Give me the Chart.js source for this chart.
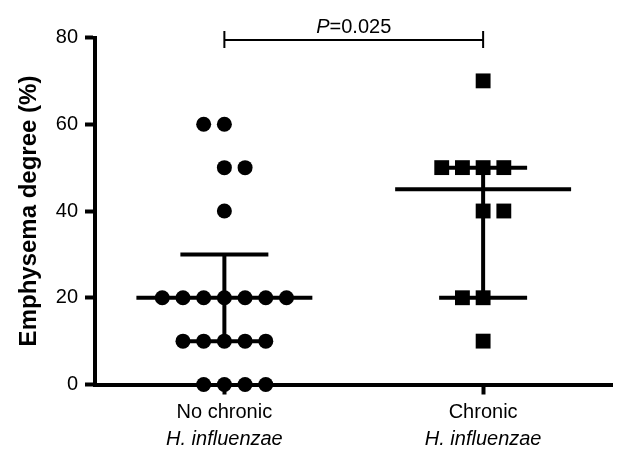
<!DOCTYPE html>
<html>
<head>
<meta charset="utf-8">
<script src="https://cdn.jsdelivr.net/npm/chart.js@4"></script>
<style>
  body { margin: 0; background: #fff; }
</style>
</head>
<body>
<canvas id="emphysemaChart" width="623" height="454"></canvas>
<script>
// values
const categories = ['No chronic', 'Chronic'];
const categorySubLabels = ['H. influenzae', 'H. influenzae'];
const noChronicValues = [60, 60, 50, 50, 40, 20, 20, 20, 20, 20, 20, 20, 10, 10, 10, 10, 10, 0, 0, 0, 0];
const chronicValues = [70, 50, 50, 50, 50, 40, 40, 20, 20, 10];
const medians = [20, 45];
const lowerQuartiles = [10, 20];
const upperQuartiles = [30, 50];
const yTickValues = [0, 20, 40, 60, 80];
const pLetter = 'P';
const pRest = '=0.025';

const fontFamily = '"Liberation Sans", Arial, sans-serif';
const dotGap = 0.08;      // horizontal spread between dots in one row (x units)
const medianHalf = 0.34;
const capHalf = 0.17;

// spread dots sharing the same value side by side, like a column scatter
function spreadPoints(values, groupIndex) {
  const rows = {};
  values.forEach(v => { rows[v] = (rows[v] || 0) + 1; });
  const levels = Object.keys(rows).map(Number).sort((a, b) => b - a);
  const pts = [];
  levels.forEach((v, r) => {
    const n = rows[v];
    let start;
    if (n % 2 === 1) start = -(n - 1) / 2;
    else start = ((r + groupIndex) % 2 === 0) ? -n / 2 : -n / 2 + 1;
    for (let k = 0; k < n; k++) pts.push({ x: groupIndex + (start + k) * dotGap, y: v });
  });
  return pts;
}

function segment(x0, y0, x1, y1) {
  return {
    data: [{ x: x0, y: y0 }, { x: x1, y: y1 }],
    showLine: true,
    borderColor: '#000',
    borderWidth: 4,
    borderCapStyle: 'butt',
    pointRadius: 0,
    clip: false
  };
}

const datasets = [];
categories.forEach((c, i) => {
  datasets.push(segment(i - medianHalf, medians[i], i + medianHalf, medians[i]));
  datasets.push(segment(i - capHalf, upperQuartiles[i], i + capHalf, upperQuartiles[i]));
  datasets.push(segment(i - capHalf, lowerQuartiles[i], i + capHalf, lowerQuartiles[i]));
  datasets.push(segment(i, lowerQuartiles[i], i, upperQuartiles[i]));
});

datasets.push({
  label: categories[0],
  data: spreadPoints(noChronicValues, 0),
  pointStyle: 'circle',
  pointRadius: 7.5,
  backgroundColor: '#000',
  borderColor: '#000',
  borderWidth: 0,
  clip: false
});
datasets.push({
  label: categories[1],
  data: spreadPoints(chronicValues, 1),
  pointStyle: 'rect',
  pointRadius: 10.5,
  backgroundColor: '#000',
  borderColor: '#000',
  borderWidth: 0,
  clip: false
});

const extraText = {
  id: 'extraText',
  afterDraw(chart) {
    const ctx = chart.ctx;
    const xs = chart.scales.x;
    const area = chart.chartArea;
    ctx.save();
    ctx.fillStyle = '#000';
    ctx.strokeStyle = '#000';

    // italic second line of the category labels
    ctx.font = 'italic 20px ' + fontFamily;
    ctx.textAlign = 'center';
    ctx.textBaseline = 'middle';
    categorySubLabels.forEach((t, i) => {
      ctx.fillText(t, xs.getPixelForValue(i), area.bottom + 55);
    });

    // significance bracket
    const x0 = xs.getPixelForValue(0);
    const x1 = xs.getPixelForValue(1);
    const yb = area.top + 2.5;
    ctx.lineWidth = 2;
    ctx.beginPath();
    ctx.moveTo(x0, yb); ctx.lineTo(x1, yb);
    ctx.moveTo(x0, yb - 9); ctx.lineTo(x0, yb + 8);
    ctx.moveTo(x1, yb - 9); ctx.lineTo(x1, yb + 8);
    ctx.stroke();

    ctx.textBaseline = 'alphabetic';
    ctx.textAlign = 'left';
    ctx.font = 'italic 20px ' + fontFamily;
    const w1 = ctx.measureText(pLetter).width;
    ctx.font = '20px ' + fontFamily;
    const w2 = ctx.measureText(pRest).width;
    const tx = (x0 + x1) / 2 - (w1 + w2) / 2;
    ctx.font = 'italic 20px ' + fontFamily;
    ctx.fillText(pLetter, tx, yb - 7);
    ctx.font = '20px ' + fontFamily;
    ctx.fillText(pRest, tx + w1, yb - 7);
    ctx.restore();
  }
};

const config = {
  type: 'scatter',
  data: { datasets: datasets },
  options: {
    responsive: false,
    animation: false,
    events: [],
    layout: { padding: { top: 37.5, left: 0, right: 0, bottom: 23.5 } },
    plugins: {
      legend: { display: false },
      tooltip: { enabled: false }
    },
    scales: {
      x: {
        type: 'linear',
        min: -0.5,
        max: 1.5,
        afterBuildTicks(scale) {
          scale.ticks = categories.map((c, i) => ({ value: i }));
        },
        ticks: {
          callback: (v) => categories[v],
          autoSkip: false,
          maxRotation: 0,
          color: '#000',
          padding: 6,
          font: { family: fontFamily, size: 20 }
        },
        grid: { drawOnChartArea: false, drawTicks: true, tickLength: 10, tickWidth: 4, tickColor: '#000' },
        border: { display: true, color: '#000', width: 4 }
      },
      y: {
        min: 0,
        max: 80,
        afterBuildTicks(scale) {
          scale.ticks = yTickValues.map(v => ({ value: v }));
        },
        afterFit(scale) { scale.width = 95; },
        ticks: {
          color: '#000',
          padding: 7,
          font: { family: fontFamily, size: 20 }
        },
        grid: { drawOnChartArea: false, drawTicks: true, tickLength: 10, tickWidth: 4, tickColor: '#000' },
        border: { display: true, color: '#000', width: 4 },
        title: {
          display: true,
          text: 'Emphysema degree (%)',
          color: '#000',
          padding: { top: 15, bottom: 0 },
          font: { family: fontFamily, size: 24, weight: 'bold' }
        }
      }
    }
  },
  plugins: [extraText]
};

let emphysemaChart = new Chart(document.getElementById('emphysemaChart'), config);
</script>
</body>
</html>
